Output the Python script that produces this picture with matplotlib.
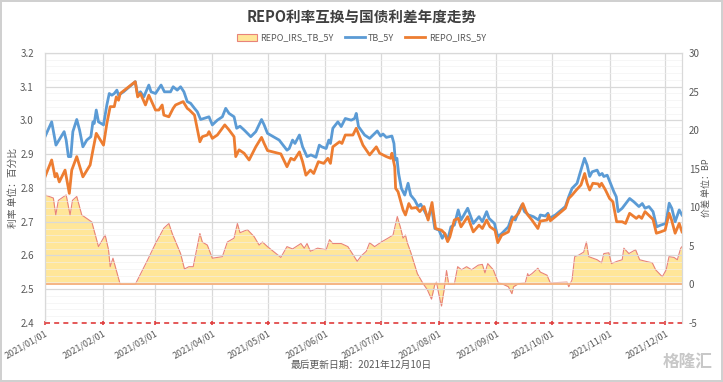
"""
REPO利率互换与国债利差年度走势 — 重绘
"""

import pandas as pd
import matplotlib
matplotlib.use("Agg")
import matplotlib.pyplot as plt
import matplotlib.dates as mdates
from matplotlib.patches import Patch
from matplotlib.lines import Line2D

plt.rcParams["font.family"] = ["Noto Sans CJK SC", "DejaVu Sans"]
plt.rcParams["axes.unicode_minus"] = False

# ============================================================
# DADOS (dias contados a partir de 2021-01-01)
# ============================================================
INICIO = "2021-01-01"

tb_dias = [0, 3.6, 5.9, 8.1, 10.3, 11.4, 12.6, 13.9, 15, 17.1, 18.6, 20.4, 22.5, 24.7,
           25.8, 26.5, 27.6, 28.8, 31.5, 33.3, 34.6, 36, 37.3, 38.7, 39.6, 42.3, 48.6,
           49.9, 51.4, 53.2, 55.9, 57.1, 59.5, 62.5, 64.3, 67.6, 69, 71.2, 73, 74.8,
           76.6, 78.4, 80.5, 82, 83.8, 88.3, 90.1, 92.8, 95.5, 97.3, 99.1, 101.8,
           103.2, 105, 107.2, 110.8, 113.5, 116.6, 118, 119.8, 126.1, 130.3, 131.5,
           133.3, 134.6, 137, 138.7, 141.1, 143.2, 145.9, 147.7, 149, 151.4, 152.8,
           153.7, 155, 157.7, 159.5, 161.7, 164.9, 166.7, 167.6, 168.8, 172.1, 174.8,
           178.9, 180.7, 182, 183.8, 186.8, 187.9, 188.6, 189.5, 190.4, 191.9, 193.7,
           195.5, 196.9, 199.1, 200.9, 202.3, 204.5, 206.3, 208.1, 209.9, 212.2,
           213.9, 215.3, 216.8, 218.6, 220.4, 222.5, 224, 227.6, 230.6, 233.7, 235.5,
           237.8, 239.1, 242, 243.8, 245.9, 249.5, 251.4, 253.2, 255, 256.8, 258.2,
           260.4, 263, 265.8, 266.7, 269.4, 270.8, 271.5, 274.8, 280.2, 282, 283.8,
           286.5, 288.3, 290.5, 291.9, 293.3, 294.6, 297.3, 298.6, 300, 300.9, 302.7,
           304.5, 306.3, 307.6, 308.6, 310.8, 314.8, 317.1, 319.8, 321.6, 323.1,
           325.2, 327.4, 329.4, 331.5, 334.3, 336.1, 337.5, 339.3, 341.5, 343]
tb_5y = [2.952, 2.996, 2.927, 2.947, 2.967, 2.942, 2.893, 2.893, 2.967, 3.003, 2.972,
         2.922, 2.942, 2.952, 2.996, 2.991, 3.031, 2.996, 2.987, 3.046, 3.080, 3.075,
         3.080, 3.090, 3.075, 3.085, 3.115, 3.075, 3.085, 3.070, 3.105, 3.085, 3.080,
         3.105, 3.085, 3.085, 3.100, 3.090, 3.100, 3.085, 3.056, 3.051, 3.036, 3.026,
         3.003, 3.011, 2.987, 3.001, 3.011, 3.036, 3.021, 3.011, 2.977, 2.983, 2.972,
         2.952, 2.967, 3.003, 2.987, 2.962, 2.942, 2.912, 2.917, 2.942, 2.932, 2.957,
         2.922, 2.893, 2.898, 2.891, 2.927, 2.922, 2.917, 2.942, 2.932, 2.977, 2.996,
         2.982, 3.006, 3.001, 3.006, 3.021, 2.982, 2.957, 2.947, 2.969, 2.954, 2.960,
         2.950, 2.954, 2.932, 2.883, 2.888, 2.843, 2.799, 2.779, 2.814, 2.779, 2.764,
         2.745, 2.752, 2.730, 2.710, 2.745, 2.680, 2.675, 2.651, 2.665, 2.646, 2.685,
         2.690, 2.735, 2.705, 2.740, 2.695, 2.715, 2.700, 2.730, 2.710, 2.695, 2.656,
         2.665, 2.685, 2.715, 2.705, 2.730, 2.750, 2.730, 2.720, 2.715, 2.705, 2.720,
         2.717, 2.725, 2.710, 2.720, 2.745, 2.774, 2.799, 2.814, 2.848, 2.888, 2.868,
         2.834, 2.848, 2.853, 2.838, 2.843, 2.834, 2.838, 2.814, 2.789, 2.774, 2.730,
         2.740, 2.769, 2.759, 2.745, 2.754, 2.740, 2.745, 2.730, 2.685, 2.690, 2.695,
         2.755, 2.740, 2.700, 2.735, 2.720]

irs_dias = [0, 3.6, 5.4, 6.3, 7.7, 10.8, 13.1, 14.4, 17.1, 20.4, 24.3, 25.8, 27.6, 31.5,
            33.3, 35.1, 37.3, 38.4, 39.6, 40.5, 48.6, 49.9, 51.4, 54.1, 55.9, 59.5,
            61.3, 63.1, 64, 66.7, 69, 70.3, 74.4, 76.6, 77.8, 80.5, 83.4, 84.7, 87.4,
            88.3, 90.1, 92.8, 96.8, 99.1, 101.8, 102.7, 104.5, 107.2, 109.9, 113.5,
            116.6, 118, 119.8, 127, 130.3, 132.4, 134.2, 137, 138.7, 140.5, 142.9,
            144.7, 147.2, 150.1, 152.3, 153.7, 155, 158.6, 159.9, 161.7, 165.8, 167.6,
            171.2, 174.8, 178.4, 180.2, 183.8, 186.1, 186.8, 188.3, 188.8, 190.1, 192.8,
            194.1, 195.9, 197.3, 200, 201.8, 204.1, 206.3, 208.4, 210.3, 213.5, 215.3,
            216.8, 218, 220.4, 222.5, 224, 227.6, 230.6, 233.7, 235.5, 237.8, 239.6,
            242.3, 243.8, 245.9, 249.5, 251.6, 255, 257.3, 259, 260, 262.2, 265.4,
            266.7, 270.3, 271.2, 272.1, 274.8, 280.2, 282, 283.8, 286.1, 288.6, 290.6,
            291.9, 293.3, 295, 297.9, 298.6, 299.7, 301.8, 304, 305.8, 307.8, 310.8,
            312.6, 314.8, 318.4, 319.8, 321.3, 323.1, 325.9, 327.4, 329.2, 331.5,
            333.9, 336.1, 337.4, 339.3, 341.5, 343]
repo_irs_5y = [2.833, 2.883, 2.833, 2.843, 2.818, 2.853, 2.784, 2.853, 2.893, 2.833,
               2.868, 2.912, 2.962, 2.927, 2.991, 3.041, 3.041, 3.070, 3.060, 3.080,
               3.115, 3.070, 3.080, 3.046, 3.075, 3.031, 3.031, 3.046, 3.016, 3.011,
               3.036, 3.046, 3.056, 3.036, 3.031, 3.016, 2.937, 2.952, 2.957, 2.967,
               2.947, 2.957, 2.987, 2.972, 2.952, 2.893, 2.913, 2.903, 2.883, 2.922,
               2.950, 2.932, 2.911, 2.901, 2.863, 2.888, 2.883, 2.907, 2.878, 2.838,
               2.853, 2.843, 2.878, 2.873, 2.888, 2.873, 2.922, 2.937, 2.932, 2.957,
               2.957, 2.977, 2.927, 2.898, 2.922, 2.903, 2.893, 2.888, 2.903, 2.863,
               2.799, 2.789, 2.735, 2.720, 2.754, 2.740, 2.742, 2.730, 2.745, 2.705,
               2.757, 2.680, 2.675, 2.665, 2.641, 2.655, 2.705, 2.710, 2.685, 2.715,
               2.670, 2.690, 2.680, 2.705, 2.685, 2.675, 2.638, 2.660, 2.670, 2.705,
               2.725, 2.754, 2.730, 2.720, 2.705, 2.680, 2.702, 2.705, 2.720, 2.703,
               2.715, 2.740, 2.769, 2.779, 2.794, 2.809, 2.843, 2.814, 2.794, 2.814,
               2.812, 2.804, 2.814, 2.794, 2.769, 2.759, 2.700, 2.700, 2.695, 2.725,
               2.710, 2.717, 2.710, 2.730, 2.715, 2.707, 2.666, 2.670, 2.675, 2.725,
               2.705, 2.666, 2.695, 2.670]

spread_dias = [0, 4.5, 5.8, 7.2, 11.4, 13.5, 14.8, 17.1, 19.8, 25.2, 28.8, 32.4, 34.2,
               35.1, 36.6, 40.5, 48.6, 54.9, 59.5, 64, 66.7, 68.5, 73, 75.1, 77.5, 79.8,
               83.4, 84.7, 87.4, 90.1, 95.5, 98.2, 101.8, 103.6, 105, 109, 112.6, 115.3,
               117.1, 119.8, 127, 130.3, 133.3, 137.8, 139.6, 141.1, 142.9, 146.8, 151.4,
               153.2, 155, 159.5, 163.1, 168.1, 170.3, 173, 174.8, 177.5, 181.1, 184.7,
               187.4, 189.7, 191.5, 192.8, 194.1, 195.1, 196.9, 200.5, 203.6, 205.9,
               208.1, 209.9, 210.8, 212, 213.5, 214.9, 216.2, 217.4, 220.4, 222.2, 224.3,
               227, 229.7, 233.3, 235.5, 236.9, 238.4, 241.4, 244.1, 245.9, 249.5, 251.4,
               252.3, 255, 258.6, 259.9, 260.4, 262.2, 265.4, 266.7, 270.3, 272.1, 281.1,
               282, 283.8, 285.2, 287.4, 290.1, 291.5, 292.8, 295, 297.3, 299.7, 300.9,
               303.6, 305, 308.1, 310.8, 311.7, 314.4, 318, 320.2, 323.4, 327, 328.8,
               332.4, 334.5, 336, 338.7, 340.5, 342.3, 343]
repo_irs_tb_5y = [11.6, 11.2, 9.0, 10.9, 11.6, 9.0, 10.9, 11.4, 9.0, 8.1, 4.9, 6.4, 4.5,
                  2.3, 3.4, 0, 0, 3.0, 5.3, 7.3, 7.9, 6.6, 4.0, 2.0, 2.3, 2.3, 6.6, 5.5,
                  5.1, 3.4, 3.6, 5.5, 6.0, 7.9, 6.7, 7.1, 6.2, 5.1, 5.5, 4.9, 3.5, 4.9,
                  4.6, 5.3, 4.7, 5.3, 4.3, 4.7, 4.5, 5.8, 5.3, 5.3, 4.9, 3.0, 3.7, 4.3,
                  5.4, 4.9, 5.5, 6.0, 6.4, 8.8, 7.3, 6.0, 6.4, 5.4, 4.2, 1.4, 0.1, -0.7,
                  -1.9, 0, 0.3, -1.2, -2.8, -0.7, 1.8, 0, 0, 2.3, 1.9, 2.3, 1.9, 2.5,
                  2.6, 1.5, 2.7, 1.9, 0.2, 0.1, -0.3, -1.2, -0.3, 0.1, 0.2, 1.4, 1.1, 1.4,
                  2.1, 1.6, 1.2, 0.2, 0.3, -0.3, 0.6, 3.6, 3.8, 4.2, 5.5, 3.6, 3.4, 3.2,
                  2.8, 4.0, 4.1, 2.7, 3.0, 3.2, 4.7, 4.0, 4.5, 3.2, 3.0, 2.8, 1.9, 1.0,
                  1.9, 3.6, 3.5, 3.2, 4.7, 4.9]

esquerda_ticks = [2.4, 2.5, 2.6, 2.7, 2.8, 2.9, 3.0, 3.1, 3.2]
direita_ticks = [-5, 0, 5, 10, 15, 20, 25, 30]

AZUL = "#5B9BD5"
LARANJA = "#ED7D31"
AMARELO = "#FFE699"
BORDA = "#E8837A"
CINZA = "#595959"


def para_datas(dias):
    return pd.Timestamp(INICIO) + pd.to_timedelta(dias, unit="D")


def main():
    fig = plt.figure(figsize=(7.23, 3.82), dpi=100)
    fig.patch.set_edgecolor("#D0D0D0")
    fig.patch.set_linewidth(1.5)

    ax2 = fig.add_axes([45 / 723, 59 / 382, 637 / 723, 270 / 382])
    ax = ax2.twinx()
    # eixo esquerdo (linhas) por cima, eixo direito (area) por baixo
    ax.yaxis.tick_left()
    ax2.yaxis.tick_right()
    ax.patch.set_visible(False)

    d_sp = para_datas(spread_dias)
    ax2.fill_between(d_sp, repo_irs_tb_5y, 0, color=AMARELO, lw=0)
    ax2.plot(d_sp, repo_irs_tb_5y, color=BORDA, lw=0.8)
    ax2.axhline(0, color="#F4B183", lw=1.3)
    ax2.set_ylim(-5, 30)
    ax2.set_yticks(direita_ticks)

    ax.plot(para_datas(tb_dias), tb_5y, color=AZUL, lw=2)
    ax.plot(para_datas(irs_dias), repo_irs_5y, color=LARANJA, lw=2)
    ax.set_ylim(2.4, 3.2)
    ax.set_yticks(esquerda_ticks)
    ax.set_yticks([2.4 + 0.02 * i for i in range(41)], minor=True)
    ax.yaxis.set_major_formatter(plt.FormatStrFormatter("%.1f"))

    x0 = pd.Timestamp("2021-01-01")
    x1 = pd.Timestamp("2021-12-10")
    ax.set_xlim(x0, x1)
    meses = pd.date_range("2021-01-01", "2021-12-01", freq="MS")
    ax2.set_xticks(meses)
    ax2.xaxis.set_major_formatter(mdates.DateFormatter("%Y/%m/%d"))
    ax2.grid(axis="x", color="#D9D9D9", lw=0.9)
    ax.grid(axis="y", which="major", color="#D9D9D9", lw=0.9)
    ax.grid(axis="y", which="minor", color="#F0F0F0", lw=0.6, alpha=0.7)
    ax2.set_axisbelow(True)

    for lbl in ax2.get_xticklabels():
        lbl.set_rotation(30)
        lbl.set_ha("right")
        lbl.set_rotation_mode("anchor")

    for a in (ax, ax2):
        for lado in ("top", "left", "right"):
            a.spines[lado].set_color("#D9D9D9")
        a.spines["bottom"].set_visible(False)
        a.tick_params(axis="y", length=0, labelsize=7, labelcolor=CINZA, pad=8)
    ax2.tick_params(axis="y", pad=5)
    ax.tick_params(axis="y", which="minor", length=0)
    ax2.tick_params(axis="x", labelsize=6.5, labelcolor=CINZA, color="#E03C3C",
                    length=3, width=1.2, direction="inout", pad=3)
    ax.tick_params(axis="x", length=0)

    ax.axhline(2.4, color="#E03C3C", lw=1.2, ls=(0, (3, 2.5)), clip_on=False, zorder=5)

    # rotulos dos eixos colocados a mao
    fig.text(13 / 723, 1 - 188 / 382, "利率 单位：百分比", rotation=90, ha="center",
             va="center", fontsize=7, color=CINZA)
    fig.text(706 / 723, 1 - 188 / 382, "价差 单位：BP", rotation=90, ha="center",
             va="center", fontsize=6.5, color=CINZA)

    fig.text(0.5, 1 - 17 / 382, "REPO利率互换与国债利差年度走势", ha="center",
             va="center", fontsize=10.5, fontweight="bold", color="#404040")

    alcas = [
        Patch(facecolor=AMARELO, edgecolor=BORDA, lw=0.8),
        Line2D([], [], color=AZUL, lw=2),
        Line2D([], [], color=LARANJA, lw=2),
    ]
    fig.legend(alcas, ["REPO_IRS_TB_5Y", "TB_5Y", "REPO_IRS_5Y"], loc="center",
               bbox_to_anchor=(0.5, 1 - 38 / 382), ncol=3, frameon=False,
               fontsize=6.5, labelcolor=CINZA, handlelength=2.2, handleheight=0.7,
               columnspacing=1.2, handletextpad=0.4)

    fig.text(0.5, 1 - 365 / 382, "最后更新日期：2021年12月10日", ha="center",
             va="center", fontsize=7, color=CINZA)
    fig.text(0.985, 1 - 362 / 382, "格隆汇", ha="right", va="center", fontsize=12,
             color="#C8C8C8", fontweight="bold")

    fig.savefig("out.png", dpi=100)
    plt.close(fig)


if __name__ == "__main__":
    main()
